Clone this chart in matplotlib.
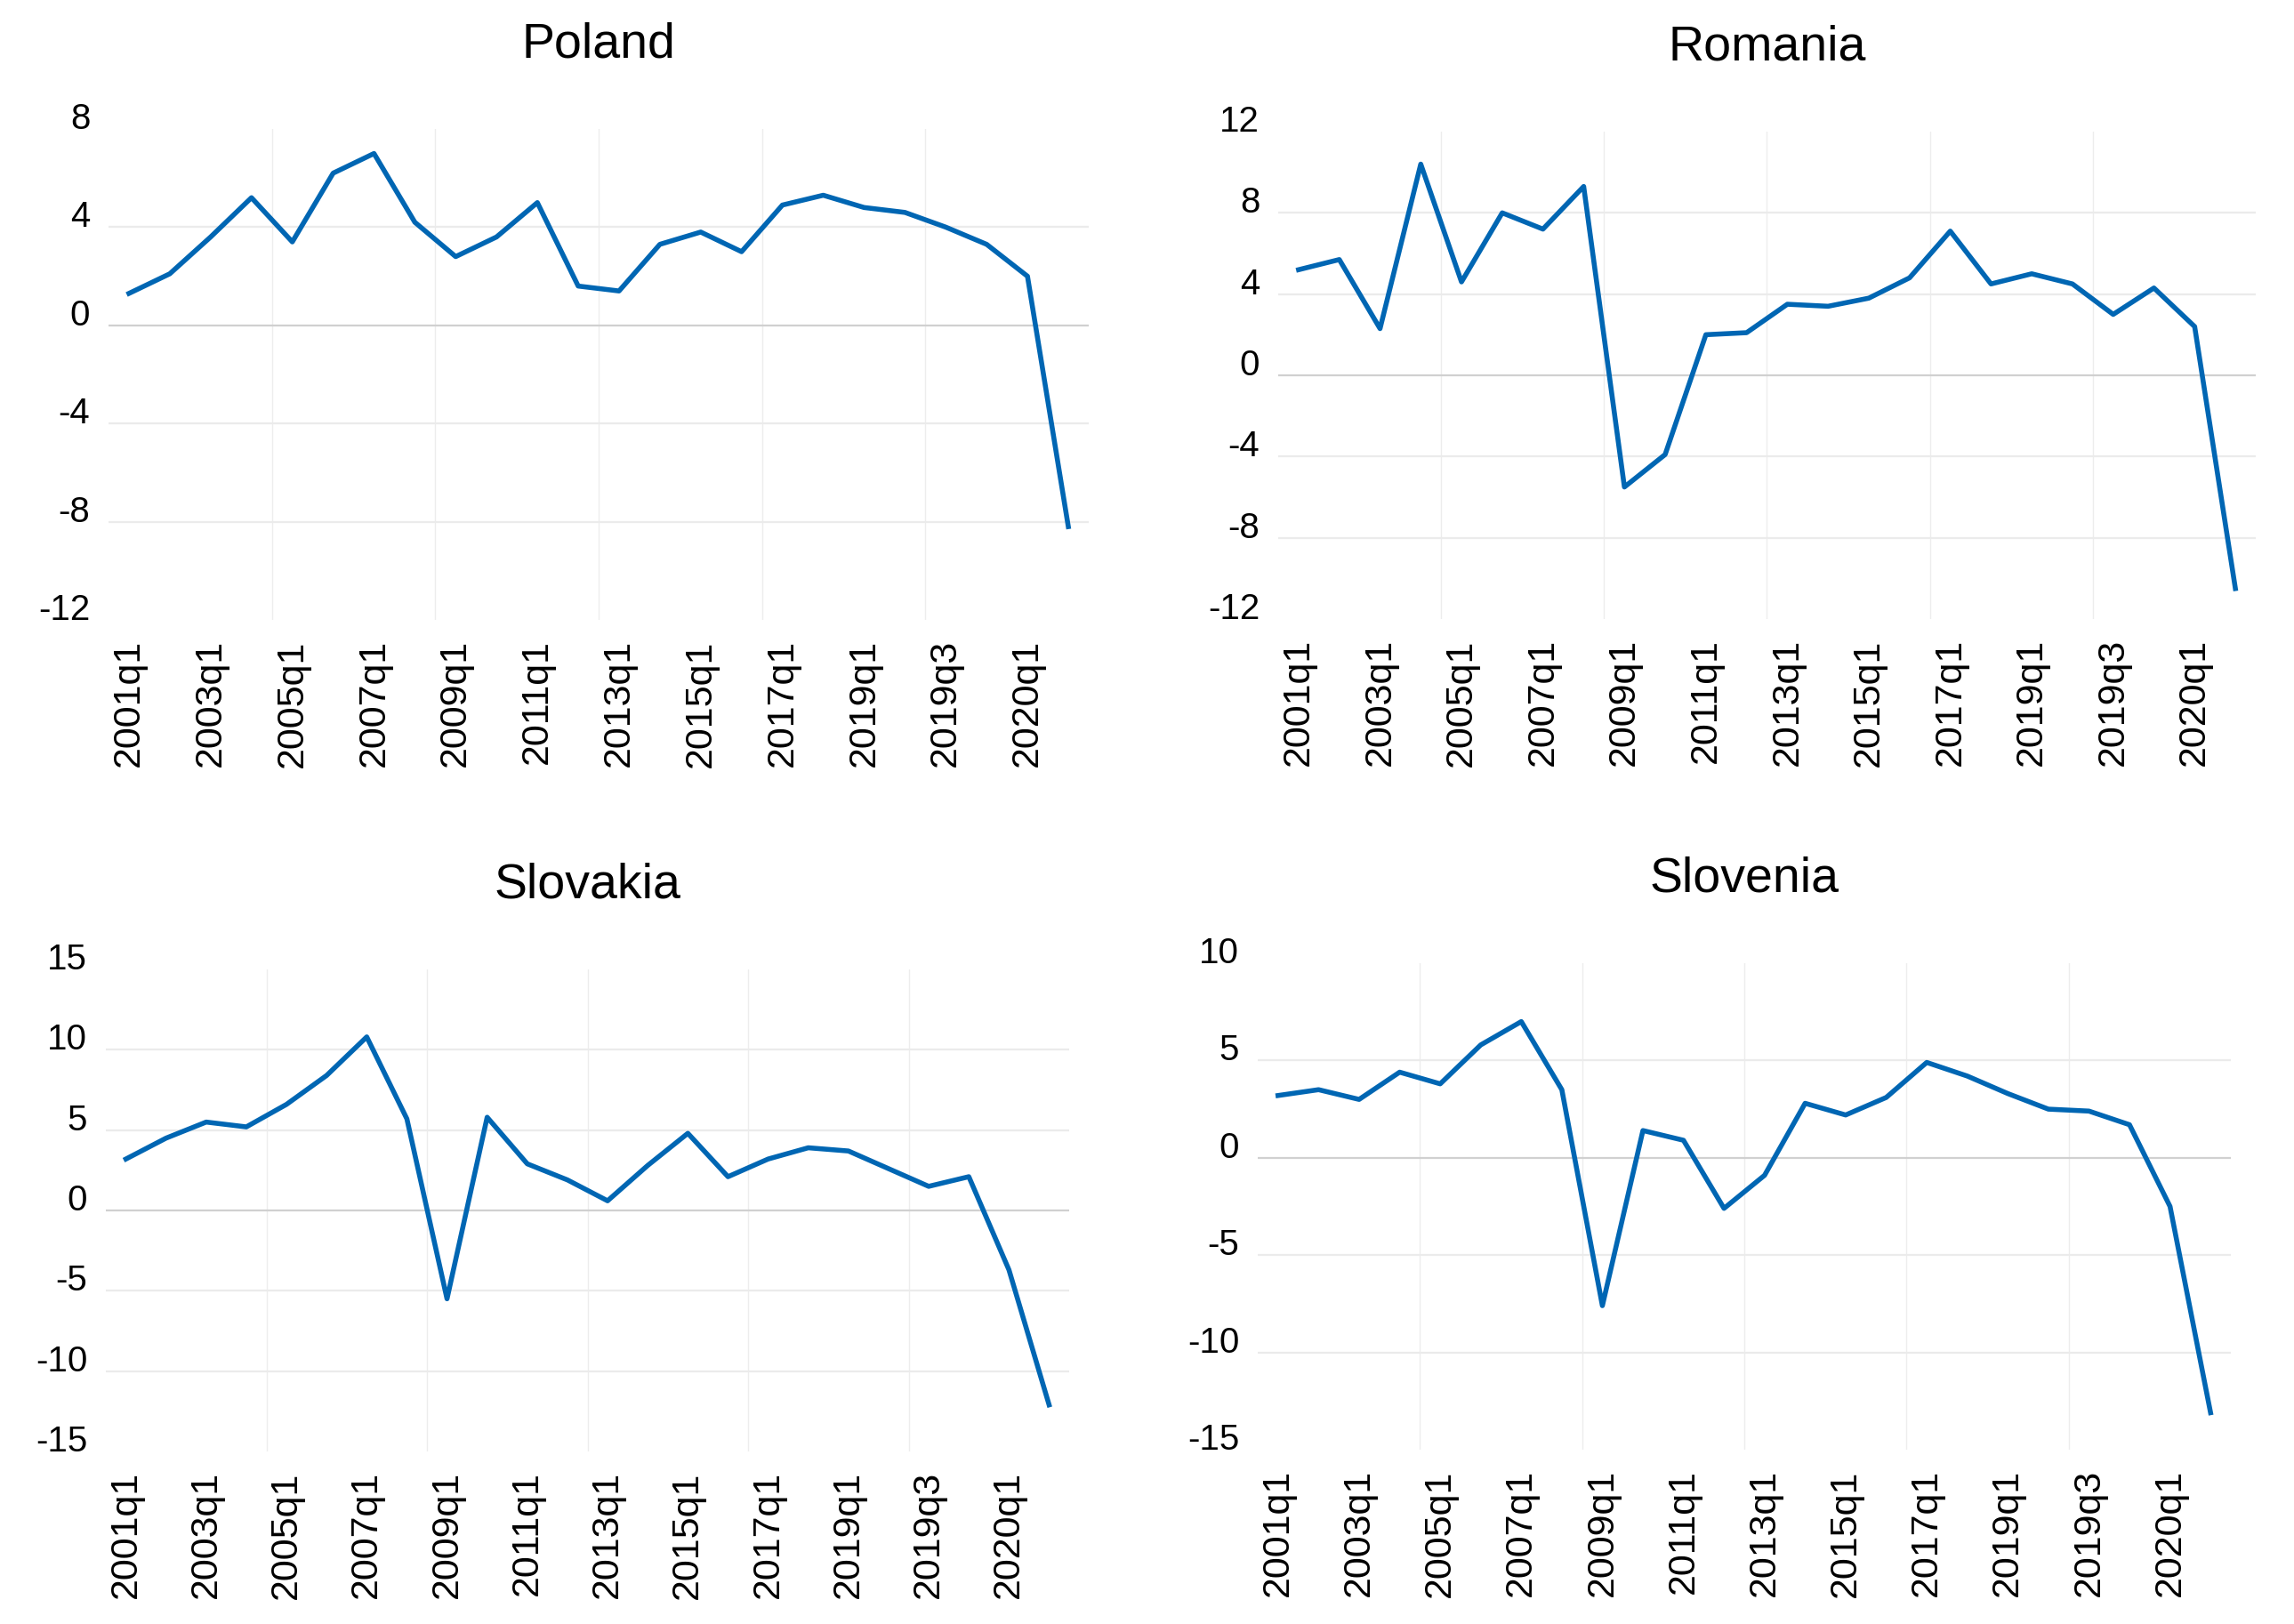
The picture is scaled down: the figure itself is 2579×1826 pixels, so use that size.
import matplotlib
matplotlib.use("Agg")
import matplotlib.pyplot as plt

plt.rcParams['font.family'] = ['Liberation Sans', 'DejaVu Sans']

# Quarters on the x axis (annual q1 up to 2019, then quarterly)
quarters = [f"{y}q1" for y in range(2001, 2020)] + ["2019q2", "2019q3", "2019q4", "2020q1", "2020q2"]

poland = [1.3, 2.1, 3.6, 5.2, 3.4, 6.2, 7.0, 4.2, 2.8, 3.6, 5.0, 1.6, 1.4, 3.3,
          3.8, 3.0, 4.9, 5.3, 4.8, 4.6, 4.0, 3.3, 2.0, -8.2]
romania = [5.2, 5.7, 2.3, 10.4, 4.6, 8.0, 7.2, 9.3, -5.5, -3.9, 2.0, 2.1, 3.5, 3.4,
           3.8, 4.8, 7.1, 4.5, 5.0, 4.5, 3.0, 4.3, 2.4, -10.5]
slovakia = [3.2, 4.5, 5.5, 5.2, 6.6, 8.4, 10.8, 5.7, -5.5, 5.8, 2.9, 1.9, 0.6, 2.8,
            4.8, 2.1, 3.2, 3.9, 3.7, 2.6, 1.5, 2.1, -3.7, -12.1]
slovenia = [3.2, 3.5, 3.0, 4.4, 3.8, 5.8, 7.0, 3.5, -7.6, 1.4, 0.9, -2.6, -0.9, 2.8,
            2.2, 3.1, 4.9, 4.2, 3.3, 2.5, 2.4, 1.7, -2.5, -13.1]

titles = ["Poland", "Romania", "Slovakia", "Slovenia"]
series = [poland, romania, slovakia, slovenia]
yticks = [[-12, -8, -4, 0, 4, 8],
          [-12, -8, -4, 0, 4, 8, 12],
          [-15, -10, -5, 0, 5, 10, 15],
          [-15, -10, -5, 0, 5, 10]]

W, H = 2579, 1826
# axes boxes in pixels: left, right, top, bottom
boxes = [(122, 1224, 145, 697),
         (1437, 2536, 148, 696),
         (119, 1202, 1090, 1632),
         (1414, 2508, 1083, 1630)]

blue = "#0066b3"

fig = plt.figure(figsize=(W / 200, H / 200), dpi=200)

for title, vals, ticks, (l, r, t, b) in zip(titles, series, yticks, boxes):
    ax = fig.add_axes([l / W, 1 - b / H, (r - l) / W, (b - t) / H])
    x = list(range(len(quarters)))
    ax.set_xlim(-0.5, len(quarters) - 0.5)
    ax.set_ylim(ticks[0], ticks[-1])

    # grid lines
    for v in [3.5, 7.5, 11.5, 15.5, 19.5]:
        ax.axvline(v, color="#ededed", lw=0.5, zorder=0)
    for v in ticks[1:-1]:
        if v == 0:
            ax.axhline(0, color="#d0d0d0", lw=0.8, zorder=1)
        else:
            ax.axhline(v, color="#ebebeb", lw=0.8, zorder=0)

    ax.plot(x, vals, color=blue, lw=2.0, zorder=3)

    ax.set_yticks(ticks)
    ax.set_yticklabels([str(v) for v in ticks], va="baseline")
    ax.set_xticks(x[::2])
    ax.set_xticklabels(quarters[::2], rotation=90)
    ax.tick_params(axis="y", length=0, pad=7.5, labelsize=14.5)
    ax.tick_params(axis="x", length=0, pad=8, labelsize=15.5)
    for s in ax.spines.values():
        s.set_visible(False)
    ax.set_title(title, fontsize=20, pad=29)

fig.savefig("out.png", dpi=200)
